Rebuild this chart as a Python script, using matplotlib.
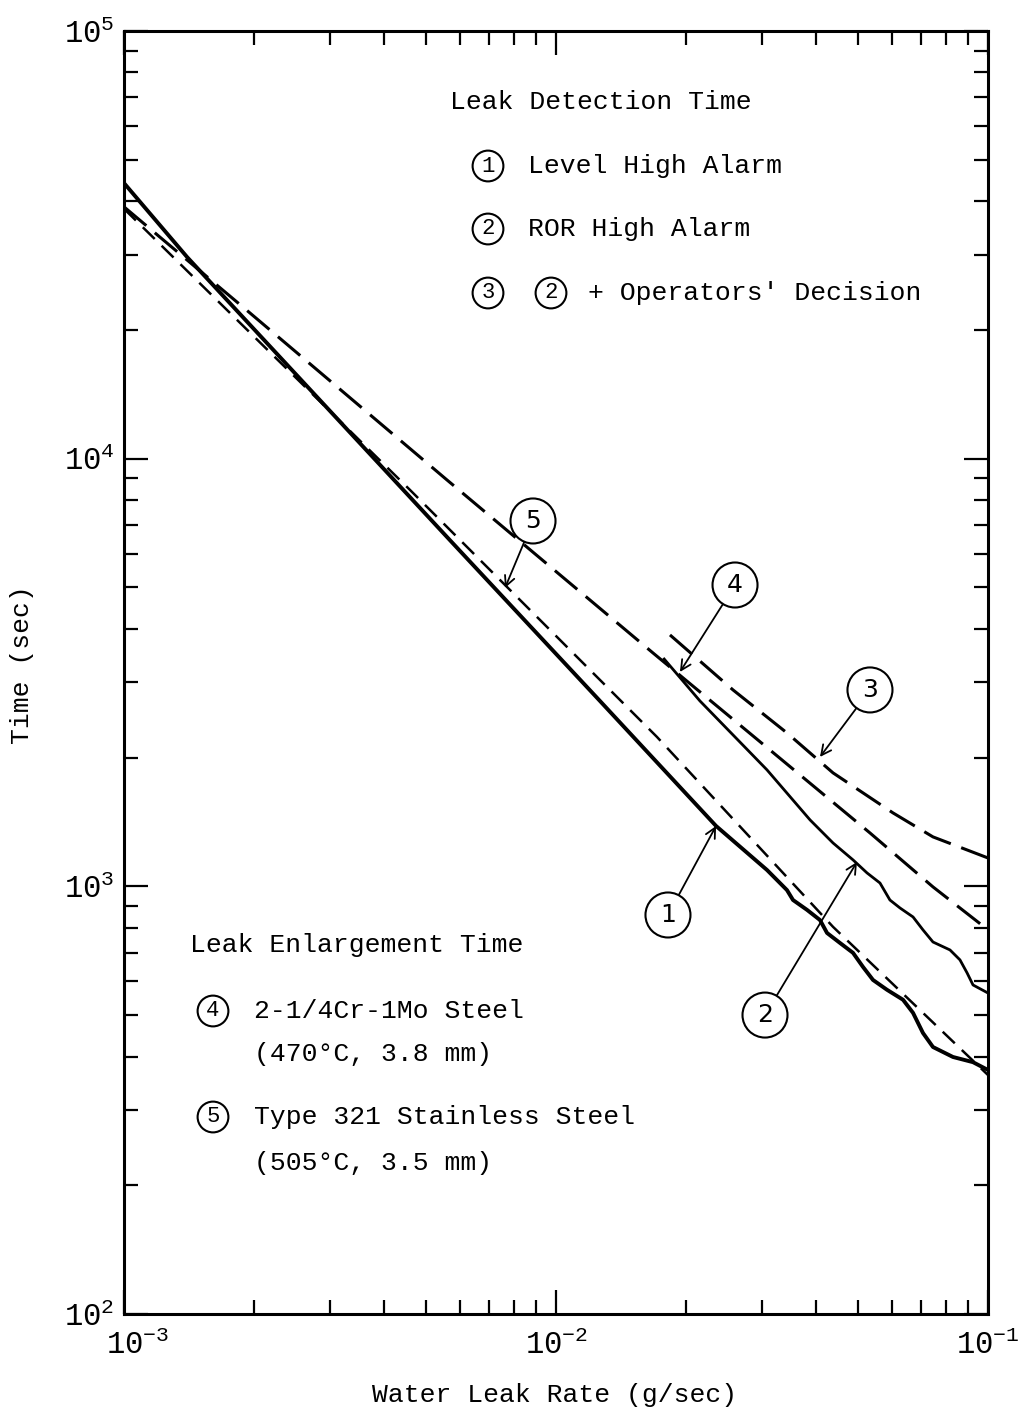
import matplotlib
matplotlib.use("Agg")
import matplotlib.pyplot as plt
import matplotlib.transforms as mtransforms
from matplotlib.ticker import FixedLocator, FixedFormatter, LogLocator, NullFormatter

plt.rcParams['font.family'] = ['Liberation Mono', 'DejaVu Sans Mono']
plt.rcParams['mathtext.fontset'] = 'custom'
plt.rcParams['mathtext.rm'] = 'Liberation Mono'
plt.rcParams['mathtext.it'] = 'Liberation Mono'
plt.rcParams['lines.scale_dashes'] = False

# ---- data ----
# (1) Level High Alarm (thick solid)
x1 = [0.001, 0.0014, 0.00256, 0.00568, 0.01264, 0.02347, 0.03079, 0.03425,
      0.03537, 0.03811, 0.04084, 0.0424, 0.04545, 0.0487, 0.05136, 0.05418, 0.05836,
      0.06357, 0.06706, 0.07071, 0.07458, 0.08297, 0.09232, 0.1]
y1 = [44100, 29600, 15350, 6450, 2713, 1384, 1092, 980,
      929, 881, 834, 778, 737, 699, 648, 604, 573,
      543, 506, 454, 421, 399, 388, 372]
# (2) ROR High Alarm (solid)
x2 = [0.0178, 0.02154, 0.03079, 0.03873, 0.04378, 0.0487, 0.05247, 0.05623, 0.05929,
      0.06256, 0.06706, 0.07071, 0.07458, 0.08166, 0.08612, 0.08941, 0.09232, 0.1]
y2 = [3400, 2713, 1872, 1430, 1263, 1153, 1075, 1018, 929,
      890, 848, 791, 741, 710, 673, 628, 588, 563]
# (3) ROR + Operators' Decision (long dash)
x3 = [0.01836, 0.02569, 0.03425, 0.04378, 0.06026, 0.07458, 0.1]
y3 = [3871, 2879, 2284, 1842, 1485, 1305, 1165]
# (4) 2-1/4Cr-1Mo Steel leak enlargement (long dash)
x4 = [0.001, 0.001957, 0.005593, 0.01677, 0.05331, 0.07458, 0.1]
y4 = [38800, 21910, 8917, 3513, 1333, 997, 791]
# (5) Type 321 Stainless Steel leak enlargement (short dash)
x5 = [0.001, 0.004592, 0.01713, 0.04378, 0.1]
y5 = [38400, 8451, 2235, 804, 362]

x_ticks = [1e-3, 1e-2, 1e-1]
x_ticklabels = [r'$\mathregular{10^{-3}}$', r'$\mathregular{10^{-2}}$', r'$\mathregular{10^{-1}}$']
y_ticks = [1e2, 1e3, 1e4, 1e5]
y_ticklabels = [r'$\mathregular{10^{2}}$', r'$\mathregular{10^{3}}$', r'$\mathregular{10^{4}}$', r'$\mathregular{10^{5}}$']

# callouts: label, arrow tip (data), circle centre (axes fraction)
callouts = [
    ('5', (7.62e-3, 4985), (0.4734, 0.6181)),
    ('4', (0.01936, 3171), (0.7072, 0.5682)),
    ('3', (0.04084, 2007), (0.8634, 0.4864)),
    ('1', (0.02347, 1384), (0.6296, 0.3110)),
    ('2', (0.04973, 1140), (0.7419, 0.2330)),
]

W, H = 1029, 1414
fig = plt.figure(figsize=(W / 100, H / 100), dpi=100)
ax = fig.add_axes([124 / W, 1 - 1314 / H, 864 / W, 1283 / H])
ax.set_xscale('log')
ax.set_yscale('log')
ax.set_xlim(1e-3, 1e-1)
ax.set_ylim(1e2, 1e5)

k = 'black'
ax.plot(x1, y1, color=k, lw=2.8, solid_joinstyle='round')
ax.plot(x2, y2, color=k, lw=2.0, solid_joinstyle='round')
ax.plot(x3, y3, color=k, lw=2.2, linestyle=(0, (21, 8)))
ax.plot(x4, y4, color=k, lw=2.2, linestyle=(0, (21, 8)))
ax.plot(x5, y5, color=k, lw=1.8, linestyle=(0, (12, 7)))

for lab, tip, cen in callouts:
    ax.annotate(lab, xy=tip, xycoords='data', xytext=cen, textcoords='axes fraction',
                ha='center', va='center', fontsize=18, family='DejaVu Sans',
                bbox=dict(boxstyle='circle,pad=0.42', fc='white', ec=k, lw=1.5),
                arrowprops=dict(arrowstyle='->', color=k, lw=1.3, shrinkA=0, shrinkB=0,
                                mutation_scale=18))

# ticks
ax.xaxis.set_major_locator(FixedLocator(x_ticks))
ax.xaxis.set_major_formatter(FixedFormatter(x_ticklabels))
ax.yaxis.set_major_locator(FixedLocator(y_ticks))
ax.yaxis.set_major_formatter(FixedFormatter(y_ticklabels))
ax.xaxis.set_minor_locator(LogLocator(base=10, subs=range(2, 10)))
ax.yaxis.set_minor_locator(LogLocator(base=10, subs=range(2, 10)))
ax.xaxis.set_minor_formatter(NullFormatter())
ax.yaxis.set_minor_formatter(NullFormatter())
ax.tick_params(which='both', direction='in', top=True, right=True, width=1.6, colors=k)
ax.tick_params(which='major', length=17, labelsize=22)
ax.tick_params(which='minor', length=10)
ax.tick_params(axis='x', which='major', pad=12)
ax.tick_params(axis='y', which='major', pad=7)
for s in ax.spines.values():
    s.set_linewidth(2.2)
fig.canvas.draw()
first = ax.get_xticklabels()[0]
first.set_transform(first.get_transform() + mtransforms.ScaledTranslation(14 / 100, 0, fig.dpi_scale_trans))

# text blocks (axes fraction)
def af(px, py):
    return ((px - 124) / 864, (1314 - py) / 1283)

fs = 19
cfs = 16
ax.text(*af(450, 102), 'Leak Detection Time', transform=ax.transAxes, fontsize=fs, va='center', ha='left')
small_circ = dict(boxstyle='circle,pad=0.22', fc='white', ec=k, lw=1.5)
for num, py, txt in [('1', 166, 'Level High Alarm'), ('2', 229, 'ROR High Alarm')]:
    ax.text(*af(488, py), num, transform=ax.transAxes, fontsize=cfs, va='center', ha='center', bbox=small_circ)
    ax.text(*af(528, py), txt, transform=ax.transAxes, fontsize=fs, va='center', ha='left')
ax.text(*af(488, 293), '3', transform=ax.transAxes, fontsize=cfs, va='center', ha='center', bbox=small_circ)
ax.text(*af(551, 293), '2', transform=ax.transAxes, fontsize=cfs, va='center', ha='center', bbox=small_circ)
ax.text(*af(588, 293), "+ Operators' Decision", transform=ax.transAxes, fontsize=fs, va='center', ha='left')

ax.text(*af(190, 945), 'Leak Enlargement Time', transform=ax.transAxes, fontsize=fs, va='center', ha='left')
ax.text(*af(213, 1011), '4', transform=ax.transAxes, fontsize=cfs, va='center', ha='center', bbox=small_circ)
ax.text(*af(254, 1011), '2-1/4Cr-1Mo Steel', transform=ax.transAxes, fontsize=fs, va='center', ha='left')
ax.text(*af(254, 1054), '(470°C, 3.8 mm)', transform=ax.transAxes, fontsize=fs, va='center', ha='left')
ax.text(*af(213, 1117), '5', transform=ax.transAxes, fontsize=cfs, va='center', ha='center', bbox=small_circ)
ax.text(*af(254, 1117), 'Type 321 Stainless Steel', transform=ax.transAxes, fontsize=fs, va='center', ha='left')
ax.text(*af(254, 1163), '(505°C, 3.5 mm)', transform=ax.transAxes, fontsize=fs, va='center', ha='left')

fig.text(555 / W, 1 - 1395 / H, 'Water Leak Rate (g/sec)', fontsize=fs, ha='center', va='center')
fig.text(22 / W, 1 - 665 / H, 'Time (sec)', fontsize=fs, ha='center', va='center', rotation=90)

fig.savefig('out.png', dpi=100, facecolor='white')
